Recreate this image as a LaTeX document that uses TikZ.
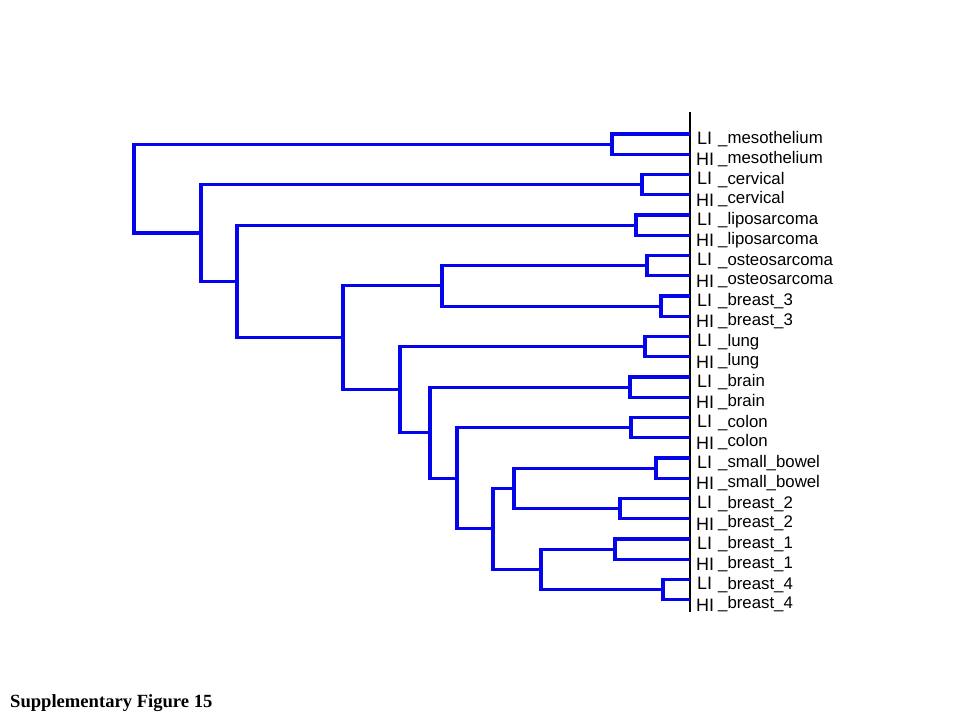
\documentclass[tikz,border=0pt]{standalone}
\usepackage{fontspec}
\setmainfont{Liberation Serif}
\newfontfamily\arialf{Liberation Sans}
\begin{document}
\begin{tikzpicture}[x=1pt,y=-1pt,
  br/.style={draw={rgb,255:red,5;green,5;blue,235}, line width=3.1pt, line join=miter},
  axisline/.style={draw=black, line width=2pt},
  tag/.style={anchor=base west, inner sep=0pt, font=\arialf\fontsize{18}{18}\selectfont},
  nm/.style={anchor=base west, inner sep=0pt, font=\arialf\fontsize{16.8}{17}\selectfont},
  ttl/.style={anchor=base west, inner sep=0pt, font=\bfseries\fontsize{18.6}{19}\selectfont}]
\useasboundingbox (0,0) rectangle (960,720);
% leaves
\foreach \i in {0,...,23}{
  \coordinate (L\i) at (690,{134+20.25*\i});
}
% labels
\foreach \i/\n in {0/mesothelium,1/cervical,2/liposarcoma,3/osteosarcoma,4/breast\_3,5/lung,6/brain,7/colon,8/small\_bowel,9/breast\_2,10/breast\_1,11/breast\_4}{
  \pgfmathsetmacro{\ya}{134+20.25*(2*\i)}
  \pgfmathsetmacro{\yb}{134+20.25*(2*\i+1)}
  \node[tag] (a\i) at (697,\ya+10) {LI};
  \node[tag] (b\i) at (696,\yb+11.5) {HI};
  \node[nm] (na\i) at (718,\ya+9.5) {\_\n};
  \node[nm] (nb\i) at (718,\yb+9) {\_\n};
}
% pair merges
\coordinate (pMes) at (612,144.1);
\coordinate (pCer) at (642,184.6);
\coordinate (pLip) at (636,225.1);
\coordinate (pOst) at (647,265.6);
\coordinate (pBrt) at (661,306.1);
\coordinate (pLun) at (645,346.6);
\coordinate (pBra) at (630,387.1);
\coordinate (pCol) at (631,427.6);
\coordinate (pSmb) at (656,468.1);
\coordinate (pBrb) at (620,508.6);
\coordinate (pBra1) at (615,549.1);
\coordinate (pBrd) at (663,589.6);
% internal merges
\coordinate (nI) at (514,488.4);
\coordinate (nJ) at (541,569.4);
\coordinate (nH) at (493,528.9);
\coordinate (nG) at (457,478.3);
\coordinate (nF) at (430,432.7);
\coordinate (nE) at (400,389.6);
\coordinate (nD) at (442,285.9);
\coordinate (nC) at (343,337.8);
\coordinate (nB) at (237,281.4);
\coordinate (nA) at (201,233.0);
\coordinate (nR) at (134,188.6);
% axis
\coordinate (axT) at (690,112);
\coordinate (axB) at (690,612);
\draw[axisline] (axT) -- (axB);
% leaf pairs
\draw[br] (L0) -| (pMes) |- (L1);
\draw[br] (L2) -| (pCer) |- (L3);
\draw[br] (L4) -| (pLip) |- (L5);
\draw[br] (L6) -| (pOst) |- (L7);
\draw[br] (L8) -| (pBrt) |- (L9);
\draw[br] (L10) -| (pLun) |- (L11);
\draw[br] (L12) -| (pBra) |- (L13);
\draw[br] (L14) -| (pCol) |- (L15);
\draw[br] (L16) -| (pSmb) |- (L17);
\draw[br] (L18) -| (pBrb) |- (L19);
\draw[br] (L20) -| (pBra1) |- (L21);
\draw[br] (L22) -| (pBrd) |- (L23);
% internal
\draw[br] (pSmb) -| (nI) |- (pBrb);
\draw[br] (pBra1) -| (nJ) |- (pBrd);
\draw[br] (nI) -| (nH) |- (nJ);
\draw[br] (pCol) -| (nG) |- (nH);
\draw[br] (pBra) -| (nF) |- (nG);
\draw[br] (pLun) -| (nE) |- (nF);
\draw[br] (pOst) -| (nD) |- (pBrt);
\draw[br] (nD) -| (nC) |- (nE);
\draw[br] (pLip) -| (nB) |- (nC);
\draw[br] (pCer) -| (nA) |- (nB);
\draw[br] (pMes) -| (nR) |- (nA);
% title
\node[ttl] (title) at (10,707) {Supplementary Figure 15};
\end{tikzpicture}
\end{document}
